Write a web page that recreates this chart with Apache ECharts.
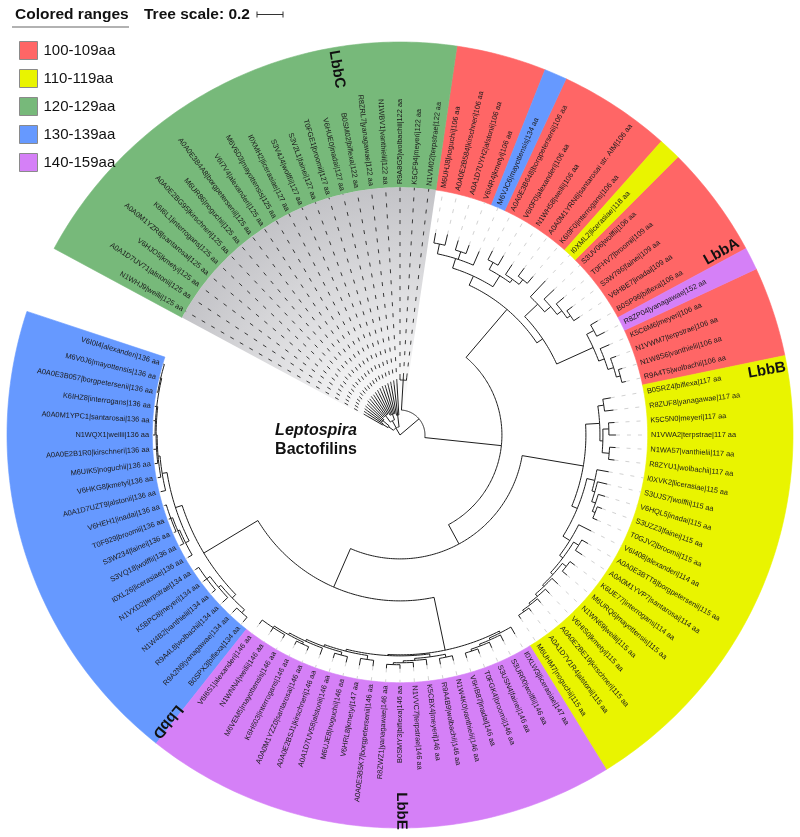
<!DOCTYPE html>
<html><head><meta charset="utf-8">
<script src="https://cdn.jsdelivr.net/npm/echarts@6/dist/echarts.min.js"></script>
<style>html,body{margin:0;padding:0;background:#fff}#chart{width:800px;height:837px}</style>
</head><body><div id="chart"></div>
<script>
// ---------------- DATA ----------------
const leafIds = ['N1WHJ9','A0A1D7UV71','V6HJO5','A0A0M1YZR8','K6I6L1','A0A0E2BG95','M6UR86','A0A0E3B4A8','V6I7V4','M6V6D3',
 'I0XMH2','S3V4J4','S3V2L1','T0FGE1','V6HUE0','B0SM02','R8ZRL7','N1WBV1','R9A8G5','K5CF94','N1VM02',
 'M6UHJ8','A0A0E2B584','A0A1D7UYH2','V6I4R4','M6VJC6','A0A0E3B648','V6I0F0','N1WH58','A0A0M1YRN6','K6I9F0',
 'I0XML2','S3UV06','T0FHV7','S3W786','V6HBE7','B0SP96','R8ZP04','K5C6M6','N1VWM7','N1W8S6','R9A4T5',
 'B0SRZ4','R8ZUF8','K5C5N0','N1VWA2','N1WA57','R8ZYU1','I0XVK2','S3UJS7','V6HQL5','S3UZZ3','T0GJV2',
 'V6I408','A0A0E3BTT8','A0A0M1YVP7','K6UE77','M6URQ6','N1WN69','V6HIS0','A0A0E2BE19','A0A1D7V1R4','M6UHM7',
 'I0XLW3','S3UR00','S3USN4','T0FGK4','V6HB87','N1W4K0','R9A4B9','K5CBX4','N1VVC7','B0SMY3','R8ZWZ1',
 'A0A0E3B5K7','V6HRL8','M6UJE8','A0A1D7UV58','A0A0E2BSJ1','A0A0M1YZZ0','K6H603','M6VEM5','N1WNN4','V6I6S1',
 'B0SPX3','R9A2N9','R9A4L8','N1W4B2','K5BPC8','N1VXD2','I0XL26','S3VQ18','S3W234','T0F929','V6HEH1',
 'A0A1D7UZT9','V6HKG8','M6UIK5','A0A0E2B1R0','N1WQX1','A0A0M1YPC1','K6IHZ8','A0A0E3B057','M6V0J6','V6I0I4'];
const leafSpecies = ['weilii','alstonii','kmetyi','santarosai','interrogans','kirschneri','noguchii','borgpetersenii','alexanderi','mayottensis',
 'licerasiae','wolffii','fainei','broomii','inadai','biflexa','yanagawae','vanthielii','wolbachii','meyeri','terpstrae',
 'noguchii','kirschneri','alstonii','kmetyi','mayottensis','borgpetersenii','alexanderi','weilii','santarosai str. AIM','interrogans',
 'licerasiae','wolffii','broomii','fainei','inadai','biflexa','yanagawae','meyeri','terpstrae','vanthielii','wolbachii',
 'biflexa','yanagawae','meyeri','terpstrae','vanthielii','wolbachii','licerasiae','wolffii','inadai','fainei','broomii',
 'alexanderi','borgpetersenii','santarosai','interrogans','mayottensis','weilii','kmetyi','kirschneri','alstonii','noguchii',
 'licerasiae','wolffii','fainei','broomii','inadai','vanthielii','wolbachii','meyeri','terpstrae','biflexa','yanagawae',
 'borgpetersenii','kmetyi','noguchii','alstonii','kirschneri','santarosai','interrogans','mayottensis','weilii','alexanderi',
 'biflexa','yanagawae','wolbachii','vanthielii','meyeri','terpstrae','licerasiae','wolffii','fainei','broomii','inadai',
 'alstonii','kmetyi','noguchii','kirschneri','weilii','santarosai','interrogans','borgpetersenii','mayottensis','alexanderi'];
const leafAa = [125,125,125,125,125,125,125,125,125,125,127,127,127,127,127,122,122,122,122,122,122,
 106,106,106,106,134,106,106,106,106,106,118,106,109,109,109,106,152,106,106,106,106,
 117,117,117,117,117,117,115,115,115,115,115,114,115,114,114,115,115,115,115,115,115,
 147,146,146,146,146,146,146,146,146,146,146,146,147,146,146,146,146,146,146,146,146,
 134,134,134,134,134,134,136,136,136,136,136,136,136,136,136,136,136,136,136,136,136];
const rangeNames = ['100-109aa','110-119aa','120-129aa','130-139aa','140-159aa'];
const rangeMin = [100,110,120,130,140];
const rangeMax = [109,119,129,139,159];
const cladeNames = ['LbbA','LbbB','LbbC','LbbD','LbbE'];
const cladeFirstLeaf = [22,43,1,85,64];
const cladeLastLeaf = [42,63,21,105,84];
const treeScaleValue = 0.2;
// tree topology + branch lengths (leaves numbered by position)
const nwkC1 = "(((1:0.138,2:0.146):0.046,(3:0.138,4:0.146,5:0.146):0.062):0.046,((6:0.146,7:0.146,8:0.154,9:0.154,10:0.162):0.062,(11:0.185,12:0.192,13:0.2,14:0.2,15:0.208):0.046):0.062,(16:0.231,17:0.238,18:0.246):0.092):0.062";
const nwkC2 = "(19:0.015,20:0.023,21:0.023):0.231";
const nwkA = "((((22:0.077,23:0.085):0.077,(24:0.077,25:0.069):0.062,26:0.115):0.077,((27:0.077,28:0.085):0.062,(29:0.092,(30:0.077,31:0.069):0.046):0.031):0.1):0.077,((32:0.169,(33:0.108,(34:0.077,(35:0.054,36:0.054):0.031):0.046):0.062):0.138,((37:0.062,38:0.069):0.062,(39:0.077,(40:0.046,(41:0.031,42:0.031):0.031):0.046):0.046):0.308):0.054):0.485";
const nwkB = "(((43:0.062,44:0.069):0.046,((45:0.046,46:0.054):0.046,(47:0.046,48:0.046):0.054):0.023):0.108,((49:0.092,(50:0.077,(51:0.054,(52:0.038,53:0.038):0.023):0.031):0.023):0.062,(54:0.108,((55:0.054,56:0.062):0.046,((57:0.046,58:0.046):0.038,(59:0.062,(60:0.046,(61:0.038,(62:0.031,63:0.031):0.015):0.015):0.023):0.015):0.023):0.031):0.062):0.046):0.477";
const nwkE = "((64:0.062,(65:0.054,(66:0.046,(67:0.038,68:0.038):0.015):0.015):0.015):0.015,(((69:0.038,70:0.046):0.023,(71:0.046,(72:0.038,(73:0.031,74:0.031):0.015):0.015):0.015):0.023,((75:0.046,76:0.054):0.031,((77:0.046,78:0.038):0.023,(79:0.054,((80:0.031,81:0.031):0.015,(82:0.031,83:0.038,84:0.038):0.015):0.015):0.015):0.015):0.015):0.008):0.415";
const nwkD = "(((85:0.046,86:0.046):0.031,(87:0.054,(88:0.031,89:0.031,90:0.031):0.031):0.023):0.038,((91:0.038,(92:0.031,(93:0.015,94:0.015,95:0.015):0.015):0.015):0.031,(96:0.038,(97:0.023,(98:0.023,99:0.023,(100:0.015,101:0.015,102:0.015,(103:0.008,104:0.008,105:0.008):0.008):0.008):0.008):0.015):0.038):0.054):0.485";
const treeNewick = "(" + nwkC1 + ",(" + nwkC2 + ",(" + nwkA + ",(" + nwkB + ",(" + nwkE + "," + nwkD + "):0.323):0.169):0.592):0.192);";

// ---------------- LAYOUT / STYLE ----------------
const CENTER = [400, 435];
const POLAR_R = 393;          // px
const R_MAX = 3.023;          // tree units at outer edge
const R_BAND_IN = 1.905;      // inner edge of coloured ranges
const R_LABEL = 1.93;
const ANGLE_MAX = 108;        // leaf slots around the circle
const START_ANGLE = 153.333;
const rangeColors = ['#ff6666','#e9f400','#77b97a','#6699ff','#d580f7'];
const FONT = '"Liberation Sans", Arial, Helvetica, sans-serif';
const cladeLabelPos = {LbbA:[37.1,2.846], LbbB:[43.0,2.865], LbbC:[16.06,2.854], LbbD:[84.7,2.838], LbbE:[72.94,2.892]};

// ---------------- TREE PARSE + LAYOUT ----------------
function parseNewick(s){
  let i = 0;
  function node(){
    const n = {children:[], len:0, name:''};
    if (s[i] === '('){
      i++;
      n.children.push(node());
      while (s[i] === ','){ i++; n.children.push(node()); }
      i++;
    }
    let name = '';
    while (i < s.length && !',():;'.includes(s[i])) name += s[i++];
    n.name = name;
    if (s[i] === ':'){
      i++; let num = '';
      while (i < s.length && !',();'.includes(s[i])) num += s[i++];
      n.len = parseFloat(num);
    }
    return n;
  }
  return node();
}
const root = parseNewick(treeNewick);
let leafCounter = 0;
const nodeItems = [];
const leafTip = [];
function layout(n, parentDepth){
  n.depth = parentDepth + n.len;
  if (!n.children.length){
    leafCounter++;
    n.angle = leafCounter;
    leafTip[parseInt(n.name,10) - 1] = n.depth;
    n.a0 = n.a1 = n.angle;
  } else {
    n.children.forEach(c => layout(c, n.depth));
    n.a0 = n.children[0].angle;
    n.a1 = n.children[n.children.length-1].angle;
    n.angle = (n.a0 + n.a1) / 2;
  }
  nodeItems.push([parentDepth, n.depth, n.angle, n.a0, n.a1]);
}
layout(root, 0);

function rangeClass(aa){
  for (let k = 0; k < rangeMin.length; k++) if (aa >= rangeMin[k] && aa <= rangeMax[k]) return k;
  return -1;
}
const rangeSegments = rangeNames.map(() => []);
(function(){
  let start = 0;
  for (let i = 1; i <= leafAa.length; i++){
    if (i === leafAa.length || rangeClass(leafAa[i]) !== rangeClass(leafAa[start])){
      rangeSegments[rangeClass(leafAa[start])].push([start + 1 - 0.5, i + 0.5]);
      start = i;
    }
  }
})();

// ---------------- HELPERS ----------------
function arcPoints(api, r, a0, a1){
  const n = Math.max(2, Math.ceil(Math.abs(a1 - a0) * 4) + 1);
  const pts = [];
  for (let k = 0; k < n; k++) pts.push(api.coord([r, a0 + (a1 - a0) * k / (n - 1)]));
  return pts;
}
function inClade(leafIdx1, ci){ return leafIdx1 >= cladeFirstLeaf[ci] && leafIdx1 <= cladeLastLeaf[ci]; }
const grayClade = cladeNames.indexOf('LbbC');

const series = [];
// coloured ranges
rangeNames.forEach((nm, k) => {
  series.push({
    name: nm, type: 'custom', coordinateSystem: 'polar', z: 1, silent: true,
    itemStyle: {color: rangeColors[k]},
    data: rangeSegments[k],
    renderItem: function(params, api){
      const a0 = api.value(0), a1 = api.value(1);
      const outer = arcPoints(api, R_MAX, a0, a1);
      const inner = arcPoints(api, R_BAND_IN, a1, a0);
      return {type: 'polygon', shape: {points: outer.concat(inner)},
        style: {fill: rangeColors[k], stroke: rangeColors[k], lineWidth: 0.6}};
    }
  });
});
// grey wedge behind LbbC
series.push({
  type: 'custom', coordinateSystem: 'polar', z: 1, silent: true,
  data: [[cladeFirstLeaf[grayClade] - 0.5, cladeLastLeaf[grayClade] + 0.5]],
  renderItem: function(params, api){
    const a0 = api.value(0), a1 = api.value(1);
    const c = api.coord([0, a0]);
    const pts = [c].concat(arcPoints(api, R_BAND_IN, a0, a1));
    const e = api.coord([R_BAND_IN, a0]);
    const rr = Math.hypot(e[0] - c[0], e[1] - c[1]);
    return {type: 'polygon', shape: {points: pts},
      style: {fill: new echarts.graphic.RadialGradient(c[0], c[1], rr, [
        {offset: 0, color: '#ffffff'}, {offset: 0.15, color: '#fcfcfc'},
        {offset: 0.5, color: '#e3e3e5'}, {offset: 1, color: '#c3c3c7'}], true)}};
  }
});
// dashed guides tip -> label
series.push({
  type: 'custom', coordinateSystem: 'polar', z: 2, silent: true,
  data: leafTip.map((t, i) => [t, i + 1]),
  renderItem: function(params, api){
    const t = api.value(0), a = api.value(1);
    const dark = inClade(a, grayClade);
    const p = api.coord([t, a]), q = api.coord([R_BAND_IN, a]);
    return {type: 'line', shape: {x1: p[0], y1: p[1], x2: q[0], y2: q[1]},
      style: {stroke: dark ? '#3a3a3a' : '#d2d2d2', lineWidth: 1, lineDash: [4, 7]}};
  }
});
// tree
series.push({
  type: 'custom', coordinateSystem: 'polar', z: 3, silent: true,
  data: nodeItems,
  renderItem: function(params, api){
    const pr = api.value(0), r = api.value(1), a = api.value(2), a0 = api.value(3), a1 = api.value(4);
    const st = {stroke: '#1e1e1e', lineWidth: 1, fill: null};
    const ch = [];
    if (r > pr) ch.push({type: 'polyline', shape: {points: [api.coord([pr, a]), api.coord([r, a])]}, style: st});
    if (a1 > a0 && r > 0) ch.push({type: 'polyline', shape: {points: arcPoints(api, r, a0, a1)}, style: st});
    return {type: 'group', children: ch};
  }
});
// leaf labels
series.push({
  type: 'custom', coordinateSystem: 'polar', z: 4, silent: true,
  data: leafIds.map((id, i) => [R_LABEL, i + 1, i]),
  renderItem: function(params, api){
    const r = api.value(0), a = api.value(1), i = api.value(2);
    const c = api.coord([0, a]), p = api.coord([r, a]);
    const phi = Math.atan2(p[1] - c[1], p[0] - c[0]);
    let rot, align;
    if (Math.cos(phi) >= 0){ rot = -phi; align = 'left'; } else { rot = -(phi - Math.PI); align = 'right'; }
    return {type: 'text', x: p[0], y: p[1], rotation: rot,
      style: {text: leafIds[i] + '|' + leafSpecies[i] + '|' + leafAa[i] + ' aa', fill: '#1a1a1a',
        fontSize: 7.4, fontFamily: FONT, align: align, verticalAlign: 'middle'}};
  }
});
// clade labels
series.push({
  type: 'custom', coordinateSystem: 'polar', z: 5, silent: true,
  data: cladeNames.map((nm, k) => [cladeLabelPos[nm][1], cladeLabelPos[nm][0], k]),
  renderItem: function(params, api){
    const r = api.value(0), a = api.value(1), k = api.value(2);
    const c = api.coord([0, a]), p = api.coord([r, a]);
    let deg = Math.atan2(p[1] - c[1], p[0] - c[0]) * 180 / Math.PI;
    if (deg < 0) deg += 360;
    if (deg > 180 && deg < 270) deg -= 180;
    return {type: 'text', x: p[0], y: p[1], rotation: -deg * Math.PI / 180,
      style: {text: cladeNames[k], fill: '#111', fontSize: 15, fontWeight: 'bold', fontFamily: FONT,
        align: 'center', verticalAlign: 'middle'}};
  }
});

const scalePx = treeScaleValue / R_MAX * POLAR_R;
const option = {
  animation: false,
  backgroundColor: '#fff',
  polar: {center: CENTER, radius: POLAR_R},
  angleAxis: {type: 'value', min: 0, max: ANGLE_MAX, startAngle: START_ANGLE, clockwise: true, show: false},
  radiusAxis: {type: 'value', min: 0, max: R_MAX, show: false},
  legend: {
    data: rangeNames, orient: 'vertical', left: 14, top: 36, icon: 'rect',
    itemWidth: 18, itemHeight: 18, itemGap: 9, selectedMode: false,
    itemStyle: {borderColor: '#8a8a8a', borderWidth: 1},
    textStyle: {fontSize: 15, color: '#111', fontFamily: FONT, padding: [0, 0, 0, 1]}
  },
  graphic: [
    {type: 'text', x: 15, y: 15, style: {text: 'Colored ranges', fontSize: 15.5, fontWeight: 'bold', fontFamily: FONT, fill: '#111', verticalAlign: 'middle'}},
    {type: 'line', shape: {x1: 12, y1: 27, x2: 129, y2: 27}, style: {stroke: '#999', lineWidth: 1.5}},
    {type: 'text', x: 144, y: 15, style: {text: 'Tree scale: ' + treeScaleValue, fontSize: 15.5, fontWeight: 'bold', fontFamily: FONT, fill: '#111', verticalAlign: 'middle'}},
    {type: 'line', shape: {x1: 257, y1: 14.5, x2: 257 + scalePx, y2: 14.5}, style: {stroke: '#333', lineWidth: 1}},
    {type: 'line', shape: {x1: 257, y1: 11.5, x2: 257, y2: 17.5}, style: {stroke: '#333', lineWidth: 1}},
    {type: 'line', shape: {x1: 257 + scalePx, y1: 11.5, x2: 257 + scalePx, y2: 17.5}, style: {stroke: '#333', lineWidth: 1}},
    {type: 'text', x: 316, y: 431, style: {text: 'Leptospira', fontSize: 16, fontWeight: 'bold', fontStyle: 'italic', fontFamily: FONT, fill: '#111', align: 'center', verticalAlign: 'middle'}},
    {type: 'text', x: 316, y: 450, style: {text: 'Bactofilins', fontSize: 16, fontWeight: 'bold', fontFamily: FONT, fill: '#111', align: 'center', verticalAlign: 'middle'}}
  ],
  series: series
};
const chart = echarts.init(document.getElementById('chart'), null, {renderer: 'canvas'});
chart.setOption(option);
</script>
</body></html>
